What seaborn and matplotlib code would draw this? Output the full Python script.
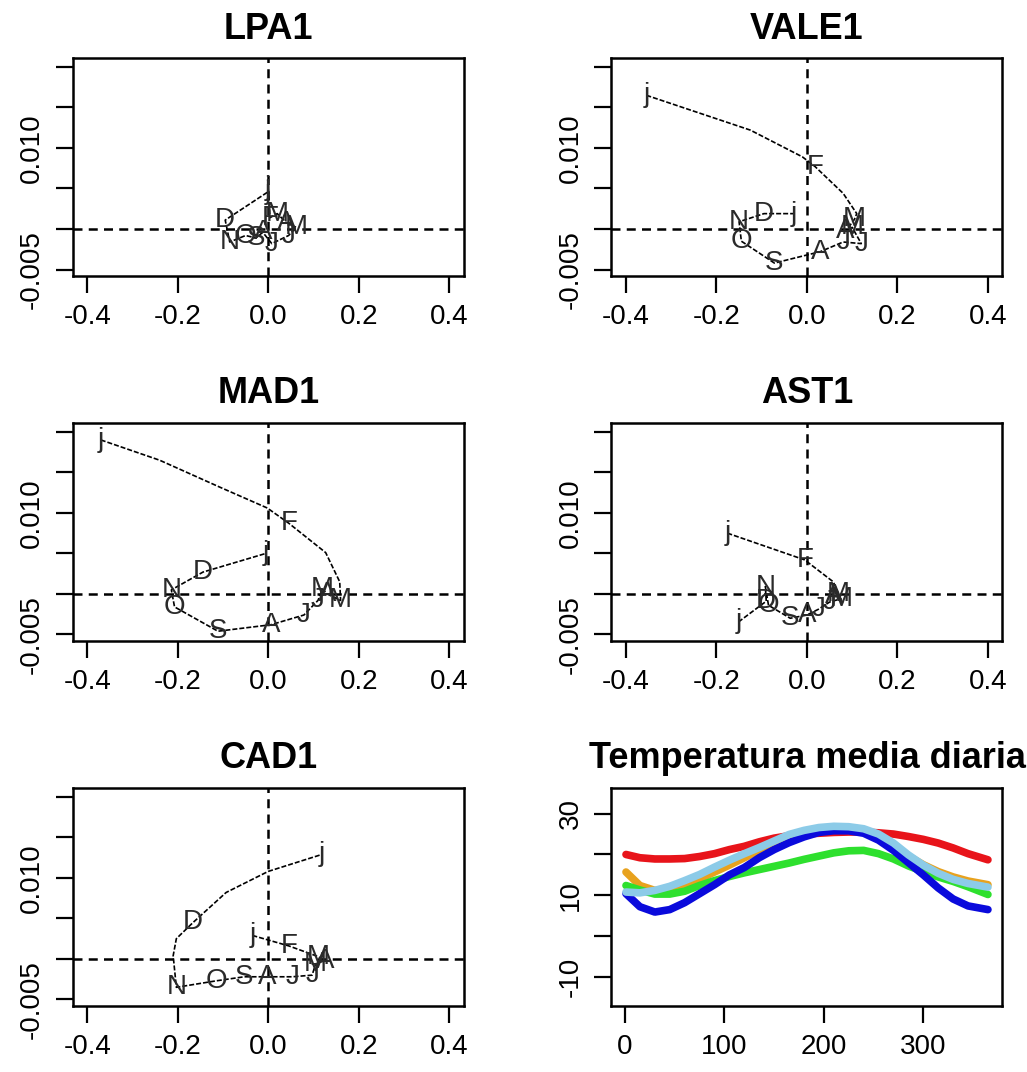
import matplotlib
matplotlib.use("Agg")
import matplotlib.pyplot as plt
import numpy as np
import pandas as pd
import seaborn as sns

# phase-plane trajectories, one per station ('' = point on the curve without a month label)
LPA1_LABELS = ["j", "F", "M", "A", "M", "J", "J", "A", "S", "O", "N", "D", "j"]
LPA1_X = [0.0, 0.004, 0.02, 0.04, 0.062, 0.045, 0.008, -0.012, -0.027, -0.05, -0.085, -0.095, 0.0]
LPA1_Y = [0.0050, 0.0014, 0.0019, 0.0008, 0.0002, -0.0008, -0.0018, -0.0004, -0.0011, -0.0008, -0.0016, 0.0011, 0.0046]

VALE1_LABELS = ["j", "", "", "F", "", "", "M", "A", "M", "J", "J", "A", "S", "O", "N", "D", "j"]
VALE1_X = [-0.355, -0.125, -0.01, 0.018, 0.08, 0.11, 0.105, 0.085, 0.1, 0.12, 0.08, 0.029, -0.072, -0.145, -0.15, -0.095, -0.028]
VALE1_Y = [0.0165, 0.0122, 0.0089, 0.0077, 0.0044, 0.0019, 0.0012, -0.0003, 0.0002, -0.0018, -0.0016, -0.0028, -0.0042, -0.0015, 0.0009, 0.0019, 0.0019]

MAD1_LABELS = ["j", "", "", "", "F", "", "", "M", "A", "M", "J", "J", "A", "S", "O", "N", "D", "j"]
MAD1_X = [-0.37, -0.24, -0.108, -0.002, 0.046, 0.127, 0.158, 0.16, 0.13, 0.12, 0.11, 0.079, 0.006, -0.111, -0.207, -0.214, -0.144, -0.005]
MAD1_Y = [0.019, 0.0165, 0.0132, 0.0106, 0.0087, 0.0051, 0.0015, -0.0008, 0.0, 0.0006, -0.0008, -0.0026, -0.0038, -0.0046, -0.0016, 0.0005, 0.0027, 0.005]

AST1_LABELS = ["j", "F", "", "M", "A", "M", "J", "J", "A", "S", "O", "N", "D", "j"]
AST1_X = [-0.176, -0.005, 0.058, 0.07, 0.06, 0.075, 0.05, 0.025, 0.0, -0.037, -0.085, -0.092, -0.09, -0.15]
AST1_Y = [0.0075, 0.0042, 0.0015, 0.0, -0.0003, -0.0006, -0.001, -0.0019, -0.0026, -0.003, -0.0014, 0.0009, -0.0009, -0.0034]

CAD1_LABELS = ["j", "F", "M", "A", "M", "J", "J", "A", "S", "O", "N", "", "", "D", "", "", "j"]
CAD1_X = [-0.035, 0.046, 0.11, 0.125, 0.105, 0.097, 0.053, -0.002, -0.053, -0.115, -0.203, -0.21, -0.203, -0.166, -0.093, 0.0, 0.119]
CAD1_Y = [0.0029, 0.0016, 0.0003, -0.0002, -0.0006, -0.002, -0.0022, -0.0022, -0.0022, -0.0027, -0.0035, 0.0004, 0.0025, 0.0045, 0.0082, 0.0108, 0.0129]

PHASE_XTICKS = [-0.4, -0.2, 0.0, 0.2, 0.4]
PHASE_XTICKLABELS = ["-0.4", "-0.2", "0.0", "0.2", "0.4"]
PHASE_YTICKS = [-0.005, 0.0, 0.005, 0.010, 0.015, 0.020]
PHASE_YTICKLABELS = ["-0.005", "", "", "0.010", "", ""]

# daily mean temperature curves
DAYS = [1, 15, 30, 45, 60, 75, 90, 105, 120, 135, 150, 165, 180, 195, 210, 225, 240, 255, 270, 285, 300, 315, 330, 345, 365]
TEMP_RED = [20.0, 19.2, 18.9, 18.9, 19.0, 19.5, 20.2, 21.2, 22.0, 23.1, 24.0, 24.6, 25.0, 25.2, 25.4, 25.5, 25.5, 25.3, 25.0, 24.4, 23.7, 22.8, 21.6, 20.2, 18.7]
TEMP_ORANGE = [15.7, 12.4, 11.2, 11.6, 12.6, 14.0, 15.7, 17.4, 19.2, 21.0, 22.7, 24.2, 25.3, 26.0, 26.3, 26.2, 25.6, 24.3, 22.2, 19.6, 17.5, 15.8, 14.5, 13.5, 12.6]
TEMP_GREEN = [12.4, 11.3, 10.3, 10.3, 11.0, 12.4, 13.6, 14.6, 15.5, 16.3, 17.1, 17.9, 18.8, 19.6, 20.4, 20.9, 21.0, 20.2, 18.9, 17.2, 15.8, 14.5, 13.4, 12.1, 10.2]
TEMP_BLUE = [10.4, 7.2, 5.9, 6.5, 8.2, 10.4, 12.6, 15.0, 16.8, 19.2, 21.2, 22.9, 24.3, 25.4, 25.8, 25.8, 25.2, 23.5, 21.0, 18.0, 15.0, 11.8, 9.1, 7.4, 6.5]
TEMP_LIGHTBLUE = [10.8, 10.6, 11.2, 12.2, 13.6, 15.1, 16.9, 18.6, 20.2, 21.7, 23.3, 24.9, 25.9, 26.6, 26.9, 26.8, 26.3, 25.0, 22.8, 19.9, 17.4, 15.4, 13.9, 12.9, 12.0]
TEMP_XTICKS = [0, 100, 200, 300]
TEMP_YTICKS = [-10, 0, 10, 20, 30]
TEMP_YTICKLABELS = ["-10", "", "10", "", "30"]

sns.set_style("white")
plt.rcParams["font.family"] = ["Liberation Sans", "DejaVu Sans"]
plt.rcParams["text.color"] = "black"
plt.rcParams["xtick.color"] = "black"
plt.rcParams["ytick.color"] = "black"
plt.rcParams["xtick.labelcolor"] = "black"
plt.rcParams["ytick.labelcolor"] = "black"

TICK_FS = 20
TITLE_FS = 26
LABEL_FS = 20


def _style_box(ax):
    for spine in ax.spines.values():
        spine.set_visible(True)
        spine.set_color("black")
        spine.set_linewidth(1.8)
    ax.tick_params(axis="both", which="both", direction="out", length=12, width=1.6,
                   labelsize=TICK_FS, color="black", labelcolor="black", pad=8, left=True, bottom=True)


def _phase_panel(ax, title, xs, ys, labels):
    df = pd.DataFrame({"x": xs, "y": ys})
    sns.lineplot(data=df, x="x", y="y", sort=False, estimator=None, ax=ax,
                 color="black", linewidth=1.2, linestyle=(0, (3, 1.2)))
    for x, y, lab in zip(xs, ys, labels):
        if lab:
            ax.text(x, y, lab, ha="center", va="center", fontsize=LABEL_FS, color="#2a2a2a")
    ax.axhline(0, color="black", linewidth=1.8, linestyle=(0, (3.6, 2.5)), zorder=0)
    ax.axvline(0, color="black", linewidth=1.8, linestyle=(0, (3.6, 2.5)), zorder=0)
    ax.set_xlim(-0.432, 0.432)
    ax.set_ylim(-0.0058, 0.0211)
    ax.set_xticks(PHASE_XTICKS)
    ax.set_xticklabels(PHASE_XTICKLABELS)
    ax.set_yticks(PHASE_YTICKS)
    ax.set_yticklabels(PHASE_YTICKLABELS, rotation=90, va="center")
    ax.set_xlabel("")
    ax.set_ylabel("")
    ax.set_title(title, fontsize=TITLE_FS, fontweight="bold", pad=14, color="black")
    _style_box(ax)


def _temperature_panel(ax):
    series = [
        (TEMP_RED, "#E8141A"),
        (TEMP_ORANGE, "#E8A21E"),
        (TEMP_GREEN, "#2EE02E"),
        (TEMP_BLUE, "#0A0ADC"),
        (TEMP_LIGHTBLUE, "#8CCBE8"),
    ]
    for values, color in series:
        sns.lineplot(x=DAYS, y=values, ax=ax, color=color, linewidth=5.5,
                     estimator=None, sort=False, solid_capstyle="round")
    ax.set_xlim(-13.6, 379.6)
    ax.set_ylim(-17.1, 36.3)
    ax.set_xticks(TEMP_XTICKS)
    ax.set_xticklabels([str(t) for t in TEMP_XTICKS])
    ax.set_yticks(TEMP_YTICKS)
    ax.set_yticklabels(TEMP_YTICKLABELS, rotation=90, va="center")
    ax.set_title("Temperatura media diaria", fontsize=TITLE_FS, fontweight="bold", pad=14, color="black")
    _style_box(ax)


def main():
    fig = plt.figure(figsize=(10.27, 10.72), dpi=100)
    col_left = [0.0708, 0.5954]
    row_bottom = [0.7425, 0.4021, 0.0616]
    width, height = 0.3807, 0.2034

    panels = [
        ("LPA1", LPA1_X, LPA1_Y, LPA1_LABELS),
        ("VALE1", VALE1_X, VALE1_Y, VALE1_LABELS),
        ("MAD1", MAD1_X, MAD1_Y, MAD1_LABELS),
        ("AST1", AST1_X, AST1_Y, AST1_LABELS),
        ("CAD1", CAD1_X, CAD1_Y, CAD1_LABELS),
    ]
    for i, (title, xs, ys, labels) in enumerate(panels):
        ax = fig.add_axes([col_left[i % 2], row_bottom[i // 2], width, height])
        _phase_panel(ax, title, xs, ys, labels)

    ax = fig.add_axes([col_left[1], row_bottom[2], width, height])
    _temperature_panel(ax)

    fig.savefig("out.png", dpi=100, facecolor="white")
    plt.close(fig)


if __name__ == "__main__":
    main()
